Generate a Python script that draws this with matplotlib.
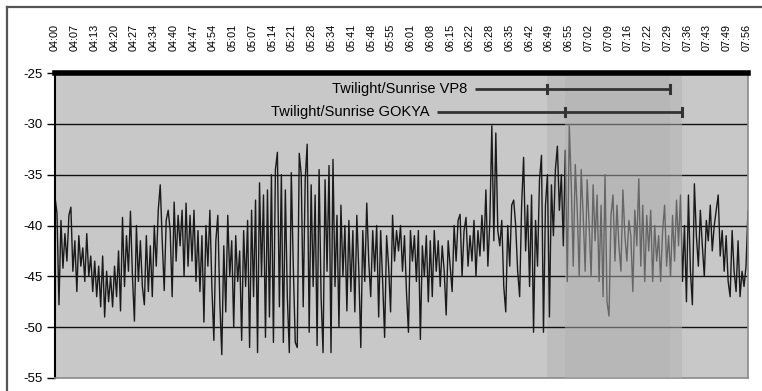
import numpy as np
import matplotlib
matplotlib.use("Agg")
import matplotlib.pyplot as plt
from matplotlib.lines import Line2D

plt.rcParams['font.family'] = ['Liberation Sans', 'DejaVu Sans']

# Category labels along the top axis (minutes after 04:00 are spaced evenly)
tick_labels = ["04:00", "04:07", "04:13", "04:20", "04:27", "04:34", "04:40",
               "04:47", "04:54", "05:01", "05:07", "05:14", "05:21", "05:28",
               "05:34", "05:41", "05:48", "05:55", "06:01", "06:08", "06:15",
               "06:22", "06:28", "06:35", "06:42", "06:49", "06:55", "07:02",
               "07:09", "07:16", "07:22", "07:29", "07:36", "07:43", "07:49",
               "07:56"]

# Received signal level (dB), one block per ~40 minutes of recording
level_0400 = [-37.2, -38.8, -47.8, -39.5, -44.2, -40.8, -43.5, -39.0, -38.2, -44.5,
              -41.5, -46.5, -41.0, -44.0, -42.2, -45.5, -40.8, -45.0, -43.0, -46.5,
              -43.5, -47.0, -44.0, -48.0, -43.0, -49.0, -44.5, -47.5, -45.0, -48.0,
              -44.0, -47.0, -42.5, -48.4, -39.2, -46.0, -41.0, -44.5, -38.6, -45.0,
              -49.4, -40.0, -45.5, -41.5, -46.0, -47.8, -41.0, -46.5, -42.0, -47.0,
              -40.0, -44.0, -38.5, -36.0, -41.5, -46.4, -39.5, -38.5]
level_0440 = [-40.5, -47.0, -37.7, -43.5, -39.0, -42.0, -38.5, -45.0, -37.8, -44.0,
              -39.0, -43.5, -38.5, -45.5, -40.5, -46.5, -41.0, -49.5, -40.0, -44.0,
              -38.5, -46.0, -51.3, -41.5, -39.0, -47.5, -52.7, -42.0, -48.5, -39.0,
              -45.0, -41.5, -50.0, -41.0, -45.5, -42.5, -51.3, -40.5, -46.0, -39.5,
              -52.0, -38.5, -47.0, -37.5, -52.5, -35.8, -45.0, -37.0, -51.0, -36.5,
              -49.0, -35.0, -51.5, -34.5, -32.8, -48.0, -35.0, -51.5]
level_0519 = [-36.5, -47.0, -52.5, -34.8, -44.0, -51.5, -52.0, -32.9, -35.0, -48.0,
              -35.5, -32.0, -50.5, -36.0, -46.0, -37.0, -51.8, -34.5, -47.0, -52.5,
              -35.5, -44.5, -34.1, -52.5, -33.5, -46.0, -39.0, -50.0, -38.0, -45.0,
              -40.0, -48.4, -39.5, -46.5, -40.5, -48.5, -39.0, -44.5, -52.0, -40.5,
              -45.5, -37.8, -43.5, -47.0, -40.5, -44.5, -40.0, -49.0, -40.5, -45.5,
              -51.0, -41.0, -44.0, -48.5, -39.0, -43.5, -40.5, -42.5]
level_0558 = [-40.0, -44.5, -41.0, -46.5, -50.5, -40.5, -43.5, -41.0, -45.5, -40.5,
              -51.2, -42.0, -45.0, -41.0, -47.5, -41.5, -47.0, -40.5, -44.5, -41.5,
              -46.0, -42.0, -44.5, -48.8, -41.5, -44.0, -46.5, -40.0, -43.5, -39.5,
              -38.9, -45.0, -40.5, -39.2, -44.0, -41.0, -43.5, -39.5, -45.0, -40.5,
              -43.0, -39.0, -42.5, -36.5, -44.0, -39.5, -30.2, -41.5, -30.9, -40.5,
              -42.0, -39.5, -46.0, -48.5, -40.0, -44.0, -38.0, -37.5]
level_0637 = [-40.0, -44.5, -47.0, -38.0, -33.3, -42.5, -38.0, -46.0, -37.0, -50.5,
              -39.5, -44.0, -35.5, -33.1, -50.5, -38.0, -35.0, -49.0, -36.0, -41.0,
              -34.5, -32.2, -38.5, -35.0, -42.0, -32.6, -45.5, -30.2, -36.0, -44.0,
              -34.0, -38.5, -45.0, -34.5, -39.0, -44.5, -35.5, -40.0, -45.0, -36.0,
              -41.5, -37.0, -45.5, -38.0, -47.0, -35.0, -47.5, -48.9, -39.0, -37.0,
              -43.5, -38.0, -42.0, -44.5, -36.5, -41.0, -43.5, -39.5]
level_0716 = [-41.0, -46.5, -38.5, -42.0, -35.4, -44.0, -38.0, -45.5, -39.0, -42.5,
              -38.5, -45.5, -40.0, -43.5, -41.0, -45.5, -40.5, -38.0, -44.0, -41.0,
              -45.0, -39.0, -43.5, -37.5, -42.0, -37.0, -45.5, -40.0, -47.5, -37.0,
              -44.5, -47.8, -35.9, -41.0, -44.0, -38.5, -42.0, -45.0, -39.5, -41.5,
              -38.0, -42.5, -40.0, -38.5, -37.0, -43.0, -40.5, -44.5, -41.0, -45.5,
              -47.0, -40.5, -44.5, -46.5, -41.5, -47.0, -44.5, -46.0, -44.0, -38.5]

# Twilight / sunrise windows (start, end) as clock times
vp8_window = ("06:48", "07:30")
gokya_window = ("06:54", "07:34")


def to_minutes(hhmm):
    h, m = hhmm.split(":")
    return (int(h) - 4) * 60 + int(m)


signal = np.concatenate([level_0400, level_0440, level_0519,
                         level_0558, level_0637, level_0716])
span = 236.5
minutes = np.linspace(0, span, len(signal))
tick_pos = np.arange(len(tick_labels)) * 236.0 / 35

W, H = 762, 391
fig = plt.figure(figsize=(W / 100, H / 100), dpi=100)
fig.patch.set_facecolor("white")

# outer chart frame (top and left edges)
fig.add_artist(Line2D([7 / W, 1], [1 - 7 / H] * 2, color="#555555", lw=1.6))
fig.add_artist(Line2D([7 / W] * 2, [0, 1 - 7 / H], color="#555555", lw=1.6))

ax = fig.add_axes([55 / W, 1 - 378 / H, 693 / W, 305 / H])
ax.set_facecolor("#c8c8c8")
ax.set_xlim(0, span)
ax.set_ylim(-55, -25)

# horizontal gridlines
for yv in [-30, -35, -40, -45, -50]:
    ax.axhline(yv, color="#111111", lw=1.0, zorder=1.2)

# VP8 window shading (behind the trace)
v0, v1 = to_minutes(vp8_window[0]), to_minutes(vp8_window[1])
g0, g1 = to_minutes(gokya_window[0]), to_minutes(gokya_window[1])
ax.axvspan(v0, v1, color="#bdbdbd", lw=0, zorder=0.5)

ax.plot(minutes, signal, color="#1a1a1a", lw=1.0, zorder=2)

# GOKYA window shading (over the trace)
ax.axvspan(g0, g1, color="#b2b2b2", alpha=0.5, lw=0, zorder=3)

# thick top axis line at -25
ax.axhline(-25, color="black", lw=4, zorder=4, clip_on=False)

# window bars with labels
for (t0, t1), yv, x_line, label in [((v0, v1), -26.55, 143.3, "Twilight/Sunrise VP8"),
                                    ((g0, g1), -28.85, 130.4, "Twilight/Sunrise GOKYA")]:
    ax.plot([x_line, t1], [yv, yv], color="#333333", lw=2, zorder=5,
            solid_capstyle="butt")
    for tc in (t0, t1):
        ax.plot([tc, tc], [yv - 0.4, yv + 0.4], color="#333333", lw=2.2, zorder=5)
    ax.text(x_line - 2.7, yv, label, ha="right", va="center", fontsize=10.5,
            color="black", zorder=6)

ax.spines["top"].set_visible(False)
ax.spines["left"].set_color("black")
ax.spines["left"].set_linewidth(1.5)
ax.spines["right"].set_color("#8a8a8a")
ax.spines["bottom"].set_color("#8a8a8a")
ax.spines["right"].set_linewidth(1.2)
ax.spines["bottom"].set_linewidth(1.2)

ax.set_yticks([-25, -30, -35, -40, -45, -50, -55])
ax.set_yticklabels(["-25", "-30", "-35", "-40", "-45", "-50", "-55"], fontsize=9.5)
ax.tick_params(axis="y", length=6, width=1, color="black", pad=3)

ax.xaxis.tick_top()
ax.set_xticks(tick_pos)
ax.set_xticklabels(tick_labels, rotation=90, fontsize=7.8)
ax.tick_params(axis="x", length=0, pad=16)

fig.savefig("out.png", dpi=100)
